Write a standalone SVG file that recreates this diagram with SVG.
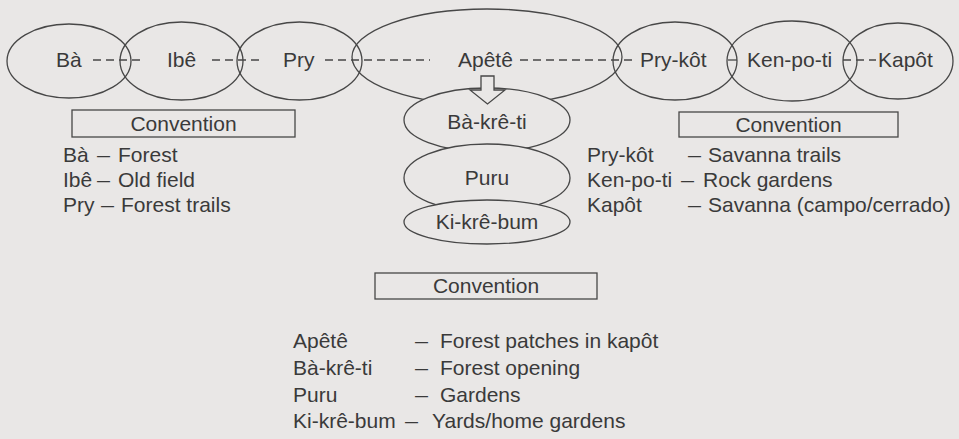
<svg xmlns="http://www.w3.org/2000/svg" width="959" height="439" viewBox="0 0 959 439">
<style>
  .bg { fill: #e9e7e6; }
  .shape { fill: none; stroke: #474747; stroke-width: 1.3; }
  .filled { fill: #e9e7e6; stroke: #474747; stroke-width: 1.3; }
  .dash { fill: none; stroke: #474747; stroke-width: 1.3; stroke-dasharray: 8 5; }
  text { font-family: "Liberation Sans", Arial, sans-serif; font-size: 21px; fill: #3a3a3a; }
  .c { text-anchor: middle; }
</style>
<rect class="bg" x="0" y="0" width="959" height="439"/>

<!-- top row nodes -->
<g id="node-ba"><ellipse class="shape" cx="69" cy="61" rx="62" ry="37"/><text x="56" y="67">Bà</text></g>
<g id="node-ibe"><ellipse class="shape" cx="181.5" cy="61" rx="61.5" ry="39"/><text x="167" y="67">Ibê</text></g>
<g id="node-pry"><ellipse class="shape" cx="299.5" cy="61" rx="62.5" ry="39"/><text x="283" y="67">Pry</text></g>
<g id="node-apete"><ellipse class="shape" cx="487" cy="57" rx="135" ry="48"/><text x="458" y="67">Apêtê</text></g>
<g id="node-prykot"><ellipse class="shape" cx="675" cy="61" rx="62" ry="39"/><text x="640" y="67">Pry-kôt</text></g>
<g id="node-kenpoti"><ellipse class="shape" cx="792" cy="61" rx="65" ry="40"/><text x="747" y="67">Ken-po-ti</text></g>
<g id="node-kapot"><ellipse class="shape" cx="898" cy="61" rx="55" ry="38"/><text x="878" y="67">Kapôt</text></g>

<!-- vertical stack -->
<g id="node-bakreti"><ellipse class="filled" cx="487" cy="120" rx="83" ry="32"/><text class="c" x="487" y="129">Bà-krê-ti</text></g>
<g id="node-puru"><ellipse class="filled" cx="487" cy="178" rx="83" ry="34"/><text class="c" x="487" y="185">Puru</text></g>
<g id="node-kikrebum"><ellipse class="filled" cx="487" cy="222" rx="83" ry="22"/><text class="c" x="487" y="229">Ki-krê-bum</text></g>

<!-- connectors -->
<g id="connectors">
  <line class="dash" x1="93" y1="60" x2="143" y2="60"/>
  <line class="dash" x1="212" y1="60" x2="260" y2="60"/>
  <line class="dash" x1="325" y1="60" x2="430" y2="60"/>
  <line class="dash" x1="520" y1="60" x2="637" y2="60"/>
  <line class="shape" x1="728" y1="60" x2="737" y2="60"/>
  <line class="dash" x1="843" y1="60" x2="876" y2="60"/>
  <polygon class="filled" points="481,76 494,76 494,90 505,90 487.5,104 470,90 481,90"/>
</g>

<!-- legend left -->
<g id="legend-left">
  <rect class="shape" x="72" y="110" width="223" height="27"/>
  <text class="c" x="183.5" y="131">Convention</text>
  <text x="63" y="162">Bà</text><text x="97" y="162" textLength="13" lengthAdjust="spacingAndGlyphs">—</text><text x="118" y="162">Forest</text>
  <text x="63" y="187">Ibê</text><text x="97" y="187" textLength="13" lengthAdjust="spacingAndGlyphs">—</text><text x="118" y="187">Old field</text>
  <text x="63" y="212">Pry</text><text x="101" y="212" textLength="13" lengthAdjust="spacingAndGlyphs">—</text><text x="121" y="212">Forest trails</text>
</g>

<!-- legend right -->
<g id="legend-right">
  <rect class="shape" x="679" y="112" width="219" height="25"/>
  <text class="c" x="788.5" y="132">Convention</text>
  <text x="587" y="162">Pry-kôt</text><text x="688" y="162" textLength="13" lengthAdjust="spacingAndGlyphs">—</text><text x="708" y="162">Savanna trails</text>
  <text x="587" y="187">Ken-po-ti</text><text x="681" y="187" textLength="13" lengthAdjust="spacingAndGlyphs">—</text><text x="703" y="187">Rock gardens</text>
  <text x="587" y="212">Kapôt</text><text x="688" y="212" textLength="13" lengthAdjust="spacingAndGlyphs">—</text><text x="708" y="212">Savanna (campo/cerrado)</text>
</g>

<!-- legend bottom -->
<g id="legend-bottom">
  <rect class="shape" x="375" y="273" width="222" height="26"/>
  <text class="c" x="486" y="293">Convention</text>
  <text x="293" y="348">Apêtê</text><text x="415" y="348" textLength="13" lengthAdjust="spacingAndGlyphs">—</text><text x="440" y="348">Forest patches in kapôt</text>
  <text x="293" y="375">Bà-krê-ti</text><text x="415" y="375" textLength="13" lengthAdjust="spacingAndGlyphs">—</text><text x="440" y="375">Forest opening</text>
  <text x="293" y="402">Puru</text><text x="415" y="402" textLength="13" lengthAdjust="spacingAndGlyphs">—</text><text x="440" y="402">Gardens</text>
  <text x="293" y="428">Ki-krê-bum</text><text x="405" y="428" textLength="13" lengthAdjust="spacingAndGlyphs">—</text><text x="432" y="428">Yards/home gardens</text>
</g>
</svg>
